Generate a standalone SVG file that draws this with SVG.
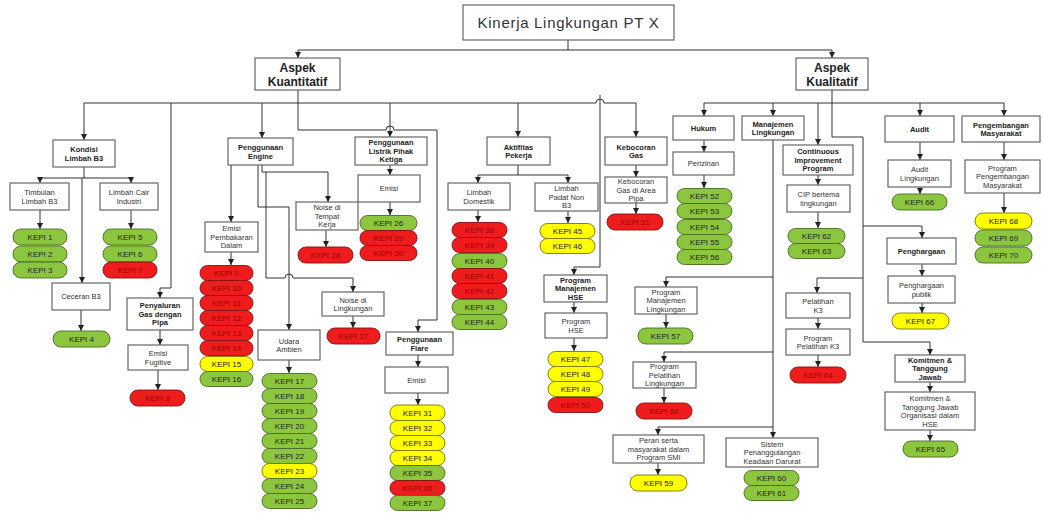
<svg xmlns="http://www.w3.org/2000/svg" width="1043" height="514" viewBox="0 0 1043 514">
<style>
.b{fill:#fff;stroke:#666;stroke-width:1.2}
.t{font-family:"Liberation Sans",Arial,sans-serif;font-size:7.5px;fill:#333;text-anchor:middle}
.h{font-weight:bold;fill:#222}
.g{fill:#8cc63f;stroke:#4a6b22;stroke-width:0.9}
.r{fill:#ee1c1c;stroke:#8a1010;stroke-width:0.9}
.y{fill:#ffff00;stroke:#777700;stroke-width:0.9}
.kt{font-family:"Liberation Sans",Arial,sans-serif;font-size:8px;fill:#222;text-anchor:middle}
.kr{fill:#a00000}
.c{fill:none;stroke:#333;stroke-width:1}
.a{marker-end:url(#ah)}
</style>
<defs>
<marker id="ah" viewBox="0 0 6 6" refX="6" refY="3" markerWidth="6" markerHeight="6" markerUnits="userSpaceOnUse" orient="auto"><path d="M0,0L6,3L0,6z" fill="#222"/></marker>
</defs>
<rect width="1043" height="514" fill="#fff"/>

<g id="connectors">
<path class="c" d="M568,40V50M298,50H832"/>
<path class="c a" d="M298,50V58"/><path class="c a" d="M832,50V58"/>
<path class="c" d="M298,90V103M84,103H596A4,4 0 0 1 604,103H636"/>
<path class="c a" d="M84,103V140"/><path class="c a" d="M262,103V138"/><path class="c a" d="M390,103V137"/><path class="c a" d="M518,103V137"/><path class="c a" d="M636,103V137"/>
<path class="c a" d="M171,103V288H160V298"/>
<path class="c a" d="M298,103V130H386A4,4 0 0 1 394,130H437V320H418V332"/>
<path class="c a" d="M600,95V267H574V275"/>
<path class="c" d="M84,167V178M40,178H131"/>
<path class="c a" d="M40,178V183"/><path class="c a" d="M131,178V183"/><path class="c a" d="M82,178V283"/>
<path class="c a" d="M40,210V229"/><path class="c a" d="M131,210V229"/><path class="c a" d="M81,310V331"/>
<path class="c a" d="M160,330V345"/><path class="c a" d="M158,370V390"/>
<path class="c a" d="M231,165V222"/>
<path class="c a" d="M262,165V172H328V202"/>
<path class="c a" d="M258,165V207H289V330"/>
<path class="c a" d="M266,172V278H285A4,4 0 0 1 293,278H353V292"/>
<path class="c a" d="M231,252V265"/><path class="c a" d="M326,230V247"/><path class="c a" d="M289,360V373"/><path class="c a" d="M353,316V328"/>
<path class="c a" d="M390,165V175"/><path class="c a" d="M390,202V215"/>
<path class="c" d="M518,165V175M478,175H568"/>
<path class="c a" d="M478,175V183"/><path class="c a" d="M568,175V183"/>
<path class="c a" d="M478,210V222"/><path class="c a" d="M568,211V223"/>
<path class="c a" d="M574,302V313"/><path class="c a" d="M574,338V351"/>
<path class="c a" d="M636,165V177"/><path class="c a" d="M636,203V214"/>
<path class="c a" d="M418,355V367"/><path class="c a" d="M418,393V405"/>
<path class="c" d="M832,90V103M704,103H1004"/>
<path class="c a" d="M704,103V116"/><path class="c a" d="M773,103V116"/><path class="c a" d="M818,103V145"/><path class="c a" d="M920,103V116"/><path class="c a" d="M1004,103V116"/>
<path class="c a" d="M832,103V137H863V342H930V355"/>
<path class="c a" d="M863,226H922V238"/><path class="c a" d="M863,278H817V293"/>
<path class="c a" d="M704,140V152"/><path class="c a" d="M704,175V188"/>
<path class="c a" d="M773,140V438"/>
<path class="c a" d="M773,277H666V287"/><path class="c a" d="M773,352H664V362"/><path class="c a" d="M773,427H658V435"/>
<path class="c a" d="M818,175V185"/><path class="c a" d="M818,212V228"/>
<path class="c a" d="M818,318V329"/><path class="c a" d="M818,355V367"/>
<path class="c a" d="M920,142V160"/><path class="c a" d="M920,187V194"/>
<path class="c a" d="M922,264V276"/><path class="c a" d="M922,303V313"/>
<path class="c a" d="M930,382V392"/><path class="c a" d="M930,430V441"/>
<path class="c a" d="M1004,142V160"/><path class="c a" d="M1004,193V213"/>
<path class="c a" d="M666,314V328"/><path class="c a" d="M664,388V403"/><path class="c a" d="M658,463V475"/>
</g>

<g id="root"><rect class="b" x="463" y="5" width="211" height="35"/><text class="t" x="568.5" y="28" style="font-size:15px;letter-spacing:0.7px">Kinerja Lingkungan PT X</text></g>
<g id="kuantitatif"><rect class="b" x="255" y="58" width="85" height="32"/><text class="t h" style="font-size:12px"><tspan x="297.5" y="72">Aspek</tspan><tspan x="297.5" y="86">Kuantitatif</tspan></text></g>
<g id="kualitatif"><rect class="b" x="796" y="58" width="72" height="32"/><text class="t h" style="font-size:12px"><tspan x="832" y="72">Aspek</tspan><tspan x="832" y="86">Kualitatif</tspan></text></g>

<g id="kondisi"><rect class="b" x="53" y="140" width="62" height="27"/><text class="t h"><tspan x="84" y="152">Kondisi</tspan><tspan x="84" y="160.5">Limbah B3</tspan></text></g>
<g id="timbulan"><rect class="b" x="10" y="183" width="59" height="27"/><text class="t"><tspan x="39.5" y="195">Timbulan</tspan><tspan x="39.5" y="203.5">Limbah B3</tspan></text></g>
<g id="cair"><rect class="b" x="100" y="183" width="58" height="27"/><text class="t"><tspan x="129" y="195">Limbah Cair</tspan><tspan x="129" y="203.5">Industri</tspan></text></g>
<g id="ceceran"><rect class="b" x="52" y="283" width="58" height="27"/><text class="t" x="81" y="299.2">Ceceran B3</text></g>
<g id="penyaluran"><rect class="b" x="127" y="298" width="66" height="32"/><text class="t h"><tspan x="160" y="308.2">Penyaluran</tspan><tspan x="160" y="316.7">Gas dengan</tspan><tspan x="160" y="325.2">Pipa</tspan></text></g>
<g id="fugitive"><rect class="b" x="128" y="345" width="60" height="25"/><text class="t"><tspan x="158" y="356">Emisi</tspan><tspan x="158" y="364.5">Fugitive</tspan></text></g>
<g id="engine"><rect class="b" x="228" y="138" width="65" height="27"/><text class="t h"><tspan x="260.5" y="150">Penggunaan</tspan><tspan x="260.5" y="158.5">Engine</tspan></text></g>
<g id="pembakaran"><rect class="b" x="205" y="222" width="53" height="30"/><text class="t"><tspan x="231.5" y="231.2">Emisi</tspan><tspan x="231.5" y="239.7">Pembakaran</tspan><tspan x="231.5" y="248.2">Dalam</tspan></text></g>
<g id="noise-kerja"><rect class="b" x="296" y="202" width="62" height="28"/><text class="t"><tspan x="327" y="210.2">Noise di</tspan><tspan x="327" y="218.7">Tempat</tspan><tspan x="327" y="227.2">Kerja</tspan></text></g>
<g id="udara"><rect class="b" x="258" y="330" width="62" height="30"/><text class="t"><tspan x="289" y="343.5">Udara</tspan><tspan x="289" y="352">Ambien</tspan></text></g>
<g id="noise-lingkungan"><rect class="b" x="322" y="292" width="62" height="24"/><text class="t"><tspan x="353" y="302.5">Noise di</tspan><tspan x="353" y="311">Lingkungan</tspan></text></g>
<g id="listrik"><rect class="b" x="355" y="137" width="72" height="28"/><text class="t h"><tspan x="391" y="145.2">Penggunaan</tspan><tspan x="391" y="153.7">Listrik Pihak</tspan><tspan x="391" y="162.2">Ketiga</tspan></text></g>
<g id="emisi-listrik"><rect class="b" x="358" y="175" width="62" height="27"/><text class="t" x="389" y="191.2">Emisi</text></g>
<g id="aktifitas"><rect class="b" x="487" y="137" width="63" height="28"/><text class="t h"><tspan x="518.5" y="149.5">Aktifitas</tspan><tspan x="518.5" y="158">Pekerja</tspan></text></g>
<g id="domestik"><rect class="b" x="448" y="183" width="62" height="27"/><text class="t"><tspan x="479" y="195">Limbah</tspan><tspan x="479" y="203.5">Domestik</tspan></text></g>
<g id="padat"><rect class="b" x="535" y="183" width="63" height="28"/><text class="t"><tspan x="566.5" y="191.2">Limbah</tspan><tspan x="566.5" y="199.7">Padat Non</tspan><tspan x="566.5" y="208.2">B3</tspan></text></g>
<g id="pm-hse"><rect class="b" x="544" y="275" width="63" height="27"/><text class="t h"><tspan x="575.5" y="282.7">Program</tspan><tspan x="575.5" y="291.2">Manajemen</tspan><tspan x="575.5" y="299.7">HSE</tspan></text></g>
<g id="p-hse"><rect class="b" x="545" y="313" width="62" height="25"/><text class="t"><tspan x="576" y="324">Program</tspan><tspan x="576" y="332.5">HSE</tspan></text></g>
<g id="kebocoran"><rect class="b" x="605" y="137" width="62" height="28"/><text class="t h"><tspan x="636" y="149.5">Kebocoran</tspan><tspan x="636" y="158">Gas</tspan></text></g>
<g id="kebocoran-area"><rect class="b" x="605" y="177" width="62" height="26"/><text class="t"><tspan x="636" y="184.2">Kebocoran</tspan><tspan x="636" y="192.7">Gas di Area</tspan><tspan x="636" y="201.2">Pipa</tspan></text></g>
<g id="flare"><rect class="b" x="386" y="332" width="67" height="23"/><text class="t h"><tspan x="419.5" y="342">Penggunaan</tspan><tspan x="419.5" y="350.5">Flare</tspan></text></g>
<g id="emisi-flare"><rect class="b" x="385" y="367" width="63" height="26"/><text class="t" x="416.5" y="382.7">Emisi</text></g>

<g id="hukum"><rect class="b" x="673" y="116" width="61" height="24"/><text class="t h" x="703.5" y="130.7">Hukum</text></g>
<g id="perizinan"><rect class="b" x="673" y="152" width="61" height="23"/><text class="t" x="703.5" y="166.2">Perizinan</text></g>
<g id="manajemen"><rect class="b" x="742" y="116" width="62" height="24"/><text class="t h"><tspan x="773" y="126.5">Manajemen</tspan><tspan x="773" y="135">Lingkungan</tspan></text></g>
<g id="continuous"><rect class="b" x="783" y="145" width="70" height="30"/><text class="t h"><tspan x="818" y="154.2">Continuous</tspan><tspan x="818" y="162.7">Improvement</tspan><tspan x="818" y="171.2">Program</tspan></text></g>
<g id="cip"><rect class="b" x="787" y="185" width="63" height="27"/><text class="t"><tspan x="818.5" y="197">CIP bertema</tspan><tspan x="818.5" y="205.5">lingkungan</tspan></text></g>
<g id="pelatihan-k3"><rect class="b" x="786" y="293" width="64" height="25"/><text class="t"><tspan x="818" y="304">Pelatihan</tspan><tspan x="818" y="312.5">K3</tspan></text></g>
<g id="program-k3"><rect class="b" x="786" y="329" width="64" height="26"/><text class="t"><tspan x="818" y="340.5">Program</tspan><tspan x="818" y="349">Pelatihan K3</tspan></text></g>
<g id="audit"><rect class="b" x="885" y="116" width="69" height="26"/><text class="t h" x="919.5" y="131.7">Audit</text></g>
<g id="audit-lingkungan"><rect class="b" x="888" y="160" width="63" height="27"/><text class="t"><tspan x="919.5" y="172">Audit</tspan><tspan x="919.5" y="180.5">Lingkungan</tspan></text></g>
<g id="penghargaan"><rect class="b" x="887" y="238" width="69" height="26"/><text class="t h" x="921.5" y="253.7">Penghargaan</text></g>
<g id="penghargaan-publik"><rect class="b" x="888" y="276" width="67" height="27"/><text class="t"><tspan x="921.5" y="288">Penghargaan</tspan><tspan x="921.5" y="296.5">publik</tspan></text></g>
<g id="komitmen"><rect class="b" x="895" y="355" width="70" height="27"/><text class="t h"><tspan x="930" y="362.7">Komitmen &amp;</tspan><tspan x="930" y="371.2">Tanggung</tspan><tspan x="930" y="379.7">Jawab</tspan></text></g>
<g id="komitmen-org"><rect class="b" x="885" y="392" width="90" height="38"/><text class="t"><tspan x="930" y="401">Komitmen &amp;</tspan><tspan x="930" y="409.5">Tanggung Jawab</tspan><tspan x="930" y="418">Organisasi dalam</tspan><tspan x="930" y="426.5">HSE</tspan></text></g>
<g id="pengembangan"><rect class="b" x="962" y="116" width="78" height="26"/><text class="t h"><tspan x="1001" y="127.5">Pengembangan</tspan><tspan x="1001" y="136">Masyarakat</tspan></text></g>
<g id="program-pm"><rect class="b" x="965" y="160" width="75" height="33"/><text class="t"><tspan x="1002.5" y="170.7">Program</tspan><tspan x="1002.5" y="179.2">Pengembangan</tspan><tspan x="1002.5" y="187.7">Masyarakat</tspan></text></g>
<g id="pml"><rect class="b" x="635" y="287" width="62" height="27"/><text class="t"><tspan x="666" y="294.7">Program</tspan><tspan x="666" y="303.2">Manajemen</tspan><tspan x="666" y="311.7">Lingkungan</tspan></text></g>
<g id="ppl"><rect class="b" x="633" y="362" width="63" height="26"/><text class="t"><tspan x="664.5" y="369.2">Program</tspan><tspan x="664.5" y="377.7">Pelatihan</tspan><tspan x="664.5" y="386.2">Lingkungan</tspan></text></g>
<g id="peran"><rect class="b" x="613" y="435" width="91" height="28"/><text class="t"><tspan x="658.5" y="443.2">Peran serta</tspan><tspan x="658.5" y="451.7">masyarakat dalam</tspan><tspan x="658.5" y="460.2">Program SMI</tspan></text></g>
<g id="sistem"><rect class="b" x="726" y="438" width="92" height="29"/><text class="t"><tspan x="772" y="446.7">Sistem</tspan><tspan x="772" y="455.2">Penanggulangan</tspan><tspan x="772" y="463.7">Keadaan Darurat</tspan></text></g>

<g id="kepi1"><rect class="g" x="13" y="229" width="54" height="16" rx="8"/><text class="kt" x="40" y="240">KEPI 1</text></g>
<g id="kepi2"><rect class="g" x="13" y="246" width="54" height="16" rx="8"/><text class="kt" x="40" y="257">KEPI 2</text></g>
<g id="kepi3"><rect class="g" x="13" y="262" width="54" height="16" rx="8"/><text class="kt" x="40" y="273">KEPI 3</text></g>
<g id="kepi5"><rect class="g" x="103" y="229" width="54" height="16" rx="8"/><text class="kt" x="130" y="240">KEPI 5</text></g>
<g id="kepi6"><rect class="g" x="103" y="246" width="54" height="16" rx="8"/><text class="kt" x="130" y="257">KEPI 6</text></g>
<g id="kepi7"><rect class="r" x="103" y="262" width="54" height="16" rx="8"/><text class="kt kr" x="130" y="273">KEPI 7</text></g>
<g id="kepi4"><rect class="g" x="53" y="331" width="57" height="16" rx="8"/><text class="kt" x="81.5" y="342">KEPI 4</text></g>
<g id="kepi8"><rect class="r" x="130" y="390" width="55" height="16" rx="8"/><text class="kt kr" x="157.5" y="401">KEPI 8</text></g>

<g id="kepi9"><rect class="r" x="200" y="265.5" width="53" height="15" rx="7.5"/><text class="kt kr" x="226.5" y="276">KEPI 9</text></g>
<g id="kepi10"><rect class="r" x="200" y="280.5" width="53" height="15" rx="7.5"/><text class="kt kr" x="226.5" y="291">KEPI 10</text></g>
<g id="kepi11"><rect class="r" x="200" y="295.5" width="53" height="15" rx="7.5"/><text class="kt kr" x="226.5" y="306">KEPI 11</text></g>
<g id="kepi12"><rect class="r" x="200" y="310.5" width="53" height="15" rx="7.5"/><text class="kt kr" x="226.5" y="321">KEPI 12</text></g>
<g id="kepi13"><rect class="r" x="200" y="325.5" width="53" height="15" rx="7.5"/><text class="kt kr" x="226.5" y="336">KEPI 13</text></g>
<g id="kepi14"><rect class="r" x="200" y="340.5" width="53" height="15" rx="7.5"/><text class="kt kr" x="226.5" y="351">KEPI 14</text></g>
<g id="kepi15"><rect class="y" x="200" y="356.5" width="53" height="15" rx="7.5"/><text class="kt" x="226.5" y="367">KEPI 15</text></g>
<g id="kepi16"><rect class="g" x="200" y="371.5" width="53" height="15" rx="7.5"/><text class="kt" x="226.5" y="382">KEPI 16</text></g>

<g id="kepi28"><rect class="r" x="298" y="247" width="55" height="16" rx="8"/><text class="kt kr" x="325.5" y="258">KEPI 28</text></g>
<g id="kepi27"><rect class="r" x="327" y="328" width="53" height="16" rx="8"/><text class="kt kr" x="353.5" y="339">KEPI 27</text></g>

<g id="kepi17"><rect class="g" x="262" y="373.5" width="55" height="15" rx="7.5"/><text class="kt" x="289.5" y="384">KEPI 17</text></g>
<g id="kepi18"><rect class="g" x="262" y="388.5" width="55" height="15" rx="7.5"/><text class="kt" x="289.5" y="399">KEPI 18</text></g>
<g id="kepi19"><rect class="g" x="262" y="403.5" width="55" height="15" rx="7.5"/><text class="kt" x="289.5" y="414">KEPI 19</text></g>
<g id="kepi20"><rect class="g" x="262" y="418.5" width="55" height="15" rx="7.5"/><text class="kt" x="289.5" y="429">KEPI 20</text></g>
<g id="kepi21"><rect class="g" x="262" y="433.5" width="55" height="15" rx="7.5"/><text class="kt" x="289.5" y="444">KEPI 21</text></g>
<g id="kepi22"><rect class="g" x="262" y="448.5" width="55" height="15" rx="7.5"/><text class="kt" x="289.5" y="459">KEPI 22</text></g>
<g id="kepi23"><rect class="y" x="262" y="463.5" width="55" height="15" rx="7.5"/><text class="kt" x="289.5" y="474">KEPI 23</text></g>
<g id="kepi24"><rect class="g" x="262" y="478.5" width="55" height="15" rx="7.5"/><text class="kt" x="289.5" y="489">KEPI 24</text></g>
<g id="kepi25"><rect class="g" x="262" y="493.5" width="55" height="15" rx="7.5"/><text class="kt" x="289.5" y="504">KEPI 25</text></g>

<g id="kepi26"><rect class="g" x="360" y="215.5" width="57" height="15" rx="7.5"/><text class="kt" x="388.5" y="226">KEPI 26</text></g>
<g id="kepi29"><rect class="r" x="360" y="230.5" width="57" height="15" rx="7.5"/><text class="kt kr" x="388.5" y="241">KEPI 29</text></g>
<g id="kepi30"><rect class="r" x="360" y="245.5" width="57" height="15" rx="7.5"/><text class="kt kr" x="388.5" y="256">KEPI 30</text></g>

<g id="kepi38"><rect class="r" x="452" y="222.5" width="55" height="15" rx="7.5"/><text class="kt kr" x="479.5" y="233">KEPI 38</text></g>
<g id="kepi39"><rect class="r" x="452" y="237.5" width="55" height="15" rx="7.5"/><text class="kt kr" x="479.5" y="248">KEPI 39</text></g>
<g id="kepi40"><rect class="g" x="452" y="253.5" width="55" height="15" rx="7.5"/><text class="kt" x="479.5" y="264">KEPI 40</text></g>
<g id="kepi41"><rect class="r" x="452" y="268.5" width="55" height="15" rx="7.5"/><text class="kt kr" x="479.5" y="279">KEPI 41</text></g>
<g id="kepi42"><rect class="r" x="452" y="283.5" width="55" height="15" rx="7.5"/><text class="kt kr" x="479.5" y="294">KEPI 42</text></g>
<g id="kepi43"><rect class="g" x="452" y="299.5" width="55" height="15" rx="7.5"/><text class="kt" x="479.5" y="310">KEPI 43</text></g>
<g id="kepi44"><rect class="g" x="452" y="314.5" width="55" height="15" rx="7.5"/><text class="kt" x="479.5" y="325">KEPI 44</text></g>

<g id="kepi45"><rect class="y" x="540" y="223.5" width="55" height="15" rx="7.5"/><text class="kt" x="567.5" y="234">KEPI 45</text></g>
<g id="kepi46"><rect class="y" x="540" y="238.5" width="55" height="15" rx="7.5"/><text class="kt" x="567.5" y="249">KEPI 46</text></g>

<g id="kepi47"><rect class="y" x="548" y="351.5" width="55" height="15" rx="7.5"/><text class="kt" x="575.5" y="362">KEPI 47</text></g>
<g id="kepi48"><rect class="y" x="548" y="366.5" width="55" height="15" rx="7.5"/><text class="kt" x="575.5" y="377">KEPI 48</text></g>
<g id="kepi49"><rect class="y" x="548" y="381.5" width="55" height="15" rx="7.5"/><text class="kt" x="575.5" y="392">KEPI 49</text></g>
<g id="kepi50"><rect class="r" x="548" y="397.5" width="55" height="15" rx="7.5"/><text class="kt kr" x="575.5" y="408">KEPI 50</text></g>

<g id="kepi51"><rect class="r" x="607" y="214" width="56" height="16" rx="8"/><text class="kt kr" x="635" y="225">KEPI 51</text></g>

<g id="kepi31"><rect class="y" x="390" y="405" width="55" height="15.5" rx="7.5"/><text class="kt" x="417.5" y="416">KEPI 31</text></g>
<g id="kepi32"><rect class="y" x="390" y="420.5" width="55" height="15" rx="7.5"/><text class="kt" x="417.5" y="431">KEPI 32</text></g>
<g id="kepi33"><rect class="y" x="390" y="435.5" width="55" height="15" rx="7.5"/><text class="kt" x="417.5" y="446">KEPI 33</text></g>
<g id="kepi34"><rect class="y" x="390" y="450.5" width="55" height="15" rx="7.5"/><text class="kt" x="417.5" y="461">KEPI 34</text></g>
<g id="kepi35"><rect class="g" x="390" y="465.5" width="55" height="15" rx="7.5"/><text class="kt" x="417.5" y="476">KEPI 35</text></g>
<g id="kepi36"><rect class="r" x="390" y="480.5" width="55" height="15" rx="7.5"/><text class="kt kr" x="417.5" y="491">KEPI 36</text></g>
<g id="kepi37"><rect class="g" x="390" y="495.5" width="55" height="15" rx="7.5"/><text class="kt" x="417.5" y="506">KEPI 37</text></g>

<g id="kepi52"><rect class="g" x="677" y="188.5" width="55" height="15" rx="7.5"/><text class="kt" x="704.5" y="199">KEPI 52</text></g>
<g id="kepi53"><rect class="g" x="677" y="203.5" width="55" height="15" rx="7.5"/><text class="kt" x="704.5" y="214">KEPI 53</text></g>
<g id="kepi54"><rect class="g" x="677" y="219.5" width="55" height="15" rx="7.5"/><text class="kt" x="704.5" y="230">KEPI 54</text></g>
<g id="kepi55"><rect class="g" x="677" y="234.5" width="55" height="15" rx="7.5"/><text class="kt" x="704.5" y="245">KEPI 55</text></g>
<g id="kepi56"><rect class="g" x="677" y="249.5" width="55" height="15" rx="7.5"/><text class="kt" x="704.5" y="260">KEPI 56</text></g>

<g id="kepi57"><rect class="g" x="638" y="328" width="55" height="16" rx="8"/><text class="kt" x="665.5" y="339">KEPI 57</text></g>
<g id="kepi58"><rect class="r" x="636" y="403" width="56" height="16" rx="8"/><text class="kt kr" x="664" y="414">KEPI 58</text></g>
<g id="kepi59"><rect class="y" x="630" y="475" width="57" height="16" rx="8"/><text class="kt" x="658.5" y="486">KEPI 59</text></g>
<g id="kepi60"><rect class="g" x="744" y="470.5" width="55" height="15" rx="7.5"/><text class="kt" x="771.5" y="481">KEPI 60</text></g>
<g id="kepi61"><rect class="g" x="744" y="485.5" width="55" height="15" rx="7.5"/><text class="kt" x="771.5" y="496">KEPI 61</text></g>

<g id="kepi62"><rect class="g" x="788" y="228.5" width="57" height="15" rx="7.5"/><text class="kt" x="816.5" y="239">KEPI 62</text></g>
<g id="kepi63"><rect class="g" x="788" y="243.5" width="57" height="15" rx="7.5"/><text class="kt" x="816.5" y="254">KEPI 63</text></g>
<g id="kepi64"><rect class="r" x="790" y="367" width="56" height="16" rx="8"/><text class="kt kr" x="818" y="378">KEPI 64</text></g>
<g id="kepi66"><rect class="g" x="892" y="194" width="55" height="16" rx="8"/><text class="kt" x="919.5" y="205">KEPI 66</text></g>
<g id="kepi67"><rect class="y" x="892" y="313" width="57" height="16" rx="8"/><text class="kt" x="920.5" y="324">KEPI 67</text></g>
<g id="kepi65"><rect class="g" x="903" y="441" width="55" height="16" rx="8"/><text class="kt" x="930.5" y="452">KEPI 65</text></g>
<g id="kepi68"><rect class="y" x="975" y="213" width="57" height="16" rx="8"/><text class="kt" x="1003.5" y="224">KEPI 68</text></g>
<g id="kepi69"><rect class="g" x="975" y="230" width="57" height="16" rx="8"/><text class="kt" x="1003.5" y="241">KEPI 69</text></g>
<g id="kepi70"><rect class="g" x="975" y="247" width="57" height="16" rx="8"/><text class="kt" x="1003.5" y="258">KEPI 70</text></g>
</svg>
